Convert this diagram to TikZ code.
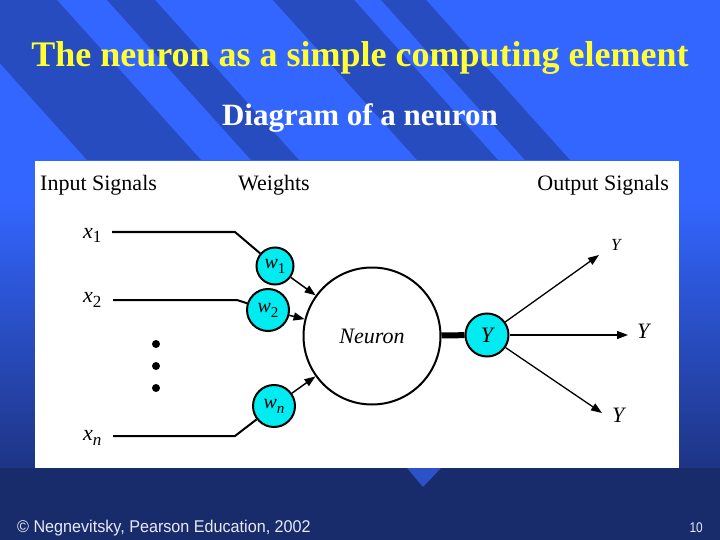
\documentclass[tikz,border=0pt]{standalone}
\usepackage{fontspec}
\setmainfont{Liberation Serif}
\newfontfamily\arialf{Liberation Sans}
\usetikzlibrary{arrows.meta}
\definecolor{bglight}{RGB}{51,102,255}
\definecolor{bgdeep}{RGB}{30,52,132}
\definecolor{bgnavy}{RGB}{24,44,108}
\definecolor{bgtri}{RGB}{45,82,200}
\definecolor{titleyel}{RGB}{255,255,51}
\definecolor{cyanc}{RGB}{0,236,240}
\definecolor{footc}{RGB}{232,234,248}
\newcommand\lsub[1]{\raisebox{-5pt}{\fontsize{17}{17}\selectfont #1}}
\newcommand\wsub[1]{\raisebox{-5pt}{\fontsize{15}{15}\selectfont #1}}
\begin{document}
\begin{tikzpicture}[x=1pt,y=-1pt,
  stripe/.style={fill=black,fill opacity=0.25,draw=none},
  wc/.style={circle,draw=black,line width=2pt,fill=cyanc,inner sep=0pt,minimum size=42pt,font=\fontsize{20}{20}\selectfont},
  neu/.style={circle,draw=black,line width=2pt,fill=white,inner sep=0pt,minimum size=137pt,font=\itshape\fontsize{22}{22}\selectfont},
  hdr/.style={inner sep=0pt,font=\fontsize{22}{22}\selectfont},
  xlab/.style={anchor=base west,inner sep=0pt,font=\fontsize{22}{22}\selectfont},
  inl/.style={line width=2pt,line join=round},
  arr/.style={line width=1.5pt,-{Triangle[length=11pt,width=8pt]}},
  oarr/.style={line width=1.3pt,-{Triangle[length=11pt,width=8pt]}},
  dotn/.style={circle,fill=black,inner sep=0pt,minimum size=8pt}
]
\useasboundingbox (0,0) rectangle (720,540);
% background
\fill[bglight] (0,0) rectangle (720,200);
\shade[top color=bglight,bottom color=bgdeep] (0,199.5) rectangle (720,470);
\fill[bgnavy] (0,468) rectangle (720,540);
\foreach \a/\b in {-57/57,107/155,273/354,381/426}
  \fill[stripe] (\a,0) -- (\b,0) -- ++(144,160) -- (\a+144,160) -- cycle;
\fill[bgtri] (407,468) -- (441,468) -- (423,487) -- cycle;
% titles
\node[anchor=base,inner sep=0pt,font=\bfseries\fontsize{36}{36}\selectfont,text=titleyel] (title) at (360,67) {The neuron as a simple computing element};
\node[anchor=base,inner sep=0pt,font=\bfseries\fontsize{31}{31}\selectfont,text=white] (subtitle) at (360,126) {Diagram of a neuron};
% panel
\fill[white] (35,161) rectangle (679,468);
% headers
\node[hdr,anchor=base west] (hin) at (40,191) {Input Signals};
\node[hdr,anchor=base west] (hw) at (238,191) {Weights};
\node[hdr,anchor=base east] (hout) at (669,191) {Output Signals};
% input labels
\node[xlab] (lx1) at (83,238) {\textit{x}\lsub{1}};
\node[xlab] (lx2) at (83,302) {\textit{x}\lsub{2}};
\node[xlab] (lxn) at (83,440) {\textit{x}\lsub{\textit{n}}};
% nodes
\node[wc,minimum size=37pt] (w1) at (275,266) {\textit{w}\wsub{1}};
\node[wc] (w2) at (268,310) {\textit{w}\wsub{2}};
\node[wc] (wn) at (274,406) {\textit{w}\wsub{\textit{n}}};
\node[neu] (neuron) at (372,336) {Neuron};
\node[wc,minimum size=43pt,font=\itshape\fontsize{22}{22}\selectfont] (yc) at (487,335) {Y};
% dots
\node[dotn] (d1) at (156,344) {};
\node[dotn] (d2) at (156,366) {};
\node[dotn] (d3) at (156,388) {};
% input connectors
\coordinate (s1) at (112,232); \coordinate (b1) at (235,232);
\coordinate (s2) at (113,300); \coordinate (b2) at (237,300);
\coordinate (sn) at (113,436); \coordinate (bn) at (235,436);
\draw[inl] (s1) -- (b1) -- (w1);
\draw[inl] (s2) -- (b2) -- (w2);
\draw[inl] (sn) -- (bn) -- (wn);
% weights to neuron
\draw[arr] (w1) -- (neuron);
\draw[arr] (w2) -- (neuron);
\draw[arr] (wn) -- (neuron);
% neuron to output
\draw[line width=6pt] (neuron) -- (yc);
\coordinate (o1) at (599,255);
\coordinate (o2) at (628,335);
\coordinate (o3) at (602,413);
\draw[oarr] (yc) -- (o1);
\draw[oarr] (yc) -- (o2);
\draw[oarr] (yc) -- (o3);
\node[xlab,font=\itshape\fontsize{17}{17}\selectfont] (ly1) at (611,250) {Y};
\node[xlab,font=\itshape\fontsize{22}{22}\selectfont] (ly2) at (637,338) {Y};
\node[xlab,font=\itshape\fontsize{22}{22}\selectfont] (ly3) at (612,422) {Y};
% footer
\node[anchor=base west,inner sep=0pt,xscale=0.95,font=\arialf\fontsize{17}{17}\selectfont,text=footc] (foot) at (17,532) {© Negnevitsky, Pearson Education, 2002};
\node[anchor=base east,inner sep=0pt,xscale=0.85,font=\arialf\fontsize{14}{14}\selectfont,text=footc] (page) at (703,532) {10};
\end{tikzpicture}
\end{document}
